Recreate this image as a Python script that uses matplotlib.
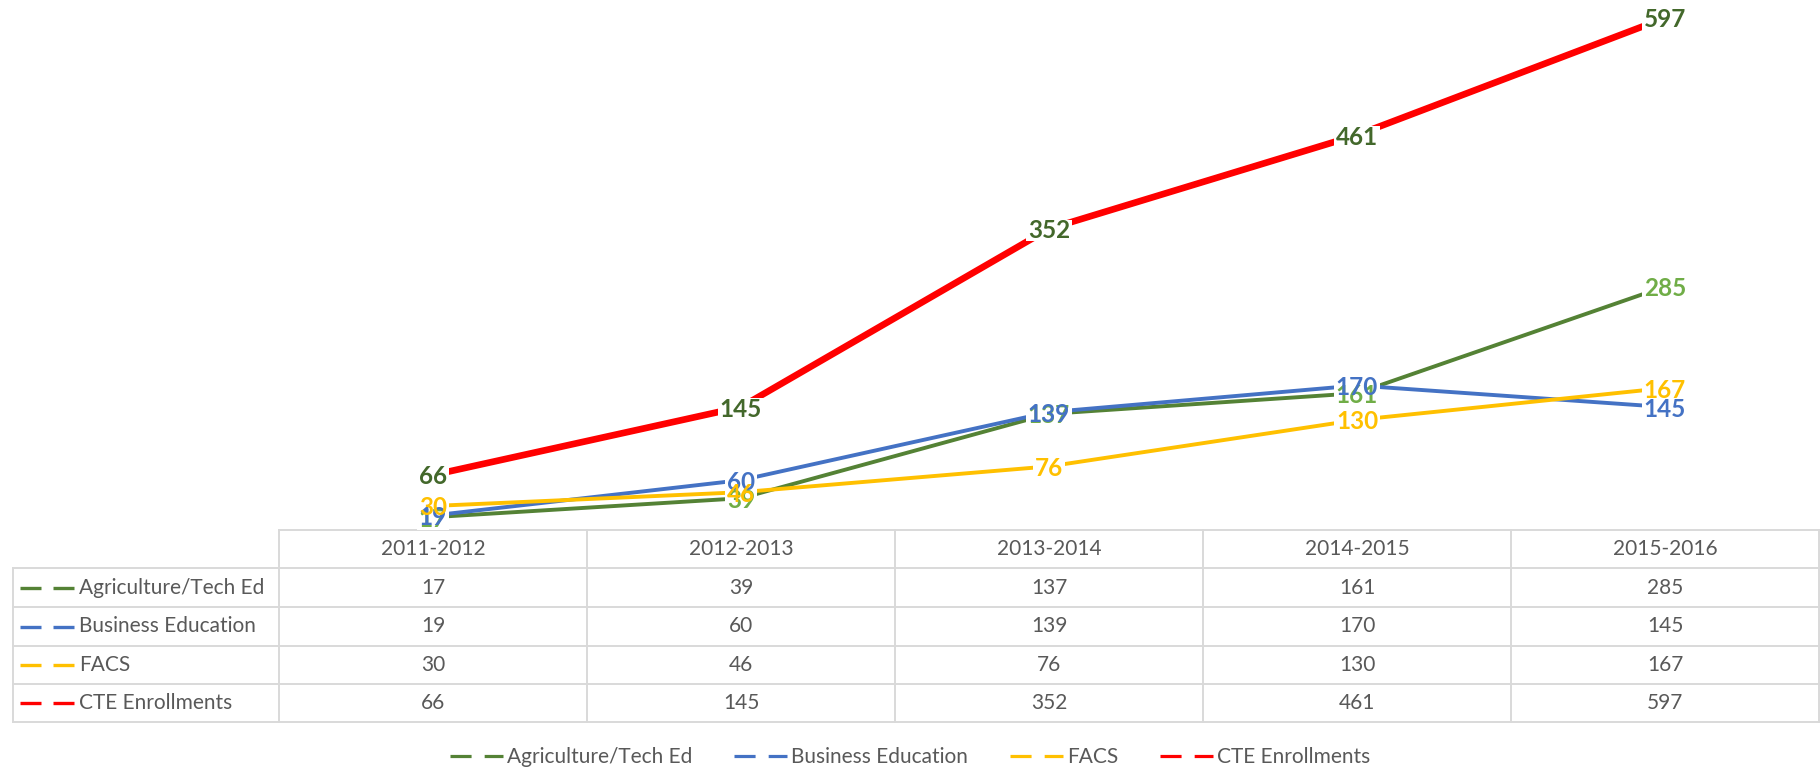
import matplotlib.pyplot as plt
from matplotlib.lines import Line2D
from matplotlib.patches import Rectangle

# data
years = ['2011-2012', '2012-2013', '2013-2014', '2014-2015', '2015-2016']
names = ['Agriculture/Tech Ed', 'Business Education', 'FACS', 'CTE Enrollments']
agriculture = [17, 39, 137, 161, 285]
business = [19, 60, 139, 170, 145]
facs = [30, 46, 76, 130, 167]
cte = [66, 145, 352, 461, 597]
series = [agriculture, business, facs, cte]

line_colors = ['#548235', '#4472C4', '#FFC000', '#FF0000']
label_colors = ['#70AD47', '#4472C4', '#FFC000', '#43682B']
line_widths = [2.8, 2.8, 2.8, 4.8]
text_color = '#595959'
grid_color = '#D9D9D9'

plt.rcParams['font.family'] = ['Lato', 'DejaVu Sans']
plt.rcParams['font.size'] = 15

W, H = 1820, 771
fig = plt.figure(figsize=(W / 100, H / 100), dpi=100)

# overlay axes in pixel units for the data table
tab = fig.add_axes([0, 0, 1, 1], zorder=0)
tab.set_xlim(0, W)
tab.set_ylim(H, 0)
tab.axis('off')

# plot area sits right on top of the table header
ax = fig.add_axes([279 / W, 1 - 531.8 / H, 1540 / W, 516.4 / H], zorder=1)
ax.patch.set_alpha(0)
ax.set_xlim(-0.5, len(years) - 0.5)
ax.set_ylim(0, 600)
ax.axis('off')

x = list(range(len(years)))
for vals, c, lw in zip(series, line_colors, line_widths):
    ax.plot(x, vals, color=c, lw=lw, solid_capstyle='butt', zorder=2)

labels = []
for k, (vals, c) in enumerate(zip(series, label_colors)):
    for i, v in enumerate(vals):
        labels.append(ax.text(i, v, str(v), ha='center', va='center_baseline', color=c,
                              fontweight='bold', fontsize=17.5, zorder=4 + k))

# white knock-out boxes behind the labels (break the lines, not the other labels)
fig.canvas.draw()
inv = ax.transData.inverted()
for t in labels:
    bb = t.get_window_extent().expanded(1.0, 0.92)
    (x0, y0), (x1, y1) = inv.transform([[bb.x0 - 2, bb.y0], [bb.x1 + 2, bb.y1]])
    ax.add_patch(Rectangle((x0, y0), x1 - x0, y1 - y0, fc='white', ec='none',
                           zorder=3, clip_on=False))

# table
left, split, right = 13, 279, 1819
col_w = (right - split) / len(years)
head_top = 530
row_edges = [568, 607, 646, 684, 722]

def hline(y, x0, x1):
    tab.plot([x0, x1], [y, y], color=grid_color, lw=1.4)

def vline(xp, y0, y1):
    tab.plot([xp, xp], [y0, y1], color=grid_color, lw=1.4)

hline(head_top, split, right)
for y in row_edges:
    hline(y, left, right)
vline(left, row_edges[0], row_edges[-1])
for j in range(len(years) + 1):
    vline(split + j * col_w, head_top, row_edges[-1])

for j, yr in enumerate(years):
    tab.text(split + (j + 0.5) * col_w, (head_top + row_edges[0]) / 2, yr,
             ha='center', va='center', color=text_color)

for r, (name, vals, c) in enumerate(zip(names, series, line_colors)):
    yc = (row_edges[r] + row_edges[r + 1]) / 2
    tab.plot([20, 41], [yc, yc], color=c, lw=2.4, solid_capstyle='butt')
    tab.plot([53, 74], [yc, yc], color=c, lw=2.4, solid_capstyle='butt')
    tab.text(79, yc, name, ha='left', va='center', color=text_color)
    for j, v in enumerate(vals):
        tab.text(split + (j + 0.5) * col_w, yc, str(v),
                 ha='center', va='center', color=text_color)

# bottom legend, keys drawn as two dashes like the table keys
handles = [Line2D([], [], color=c, lw=2.3, linestyle=(0, (6.6, 4.1)),
                  dash_capstyle='butt') for c in line_colors]
fig.legend(handles, names, ncol=4, loc='center', bbox_to_anchor=(0.5, 1 - 757 / H),
           frameon=False, handlelength=2.55, handletextpad=0.2, columnspacing=2.0,
           labelcolor=text_color, fontsize=15)

fig.savefig('out.png', dpi=100)
